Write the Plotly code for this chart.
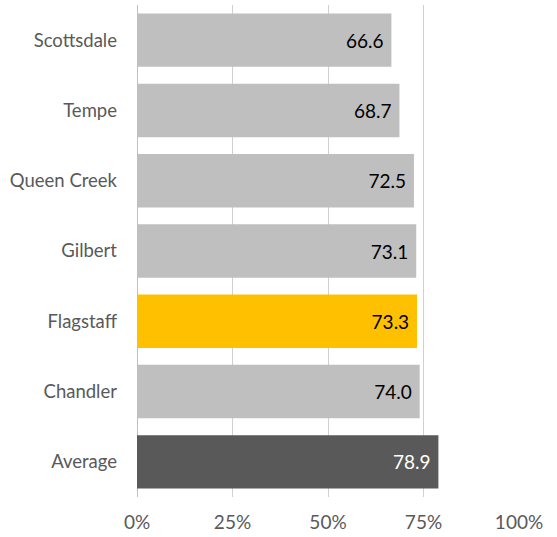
import plotly.graph_objects as go

# Share of residents (percent), listed top to bottom
cities = ["Scottsdale", "Tempe", "Queen Creek", "Gilbert", "Flagstaff", "Chandler", "Average"]
values = [66.6, 68.7, 72.5, 73.1, 73.3, 74.0, 78.9]
bar_colors = ["#bfbfbf", "#bfbfbf", "#bfbfbf", "#bfbfbf", "#ffc000", "#bfbfbf", "#595959"]
label_colors = ["#000000"] * 6 + ["#ffffff"]

tick_vals = [0, 25, 50, 75, 100]
tick_text = ["0%", "25%", "50%", "75%", "100%"]

font_family = "Lato, Open Sans, sans-serif"

fig = go.Figure(
    go.Bar(
        y=cities,
        x=values,
        orientation="h",
        marker=dict(color=bar_colors, line=dict(width=0)),
        text=[f"{v:.1f}\u00a0" for v in values],
        textposition="inside",
        insidetextanchor="end",
        textfont=dict(family=font_family, size=19, color=label_colors),
        cliponaxis=False,
        hoverinfo="skip",
    )
)

fig.update_layout(
    width=557,
    height=537,
    margin=dict(l=137, r=38, t=5, b=40),
    paper_bgcolor="white",
    plot_bgcolor="white",
    bargap=0.24,
    showlegend=False,
    font=dict(family=font_family, size=19, color="#595959"),
    uniformtext=dict(mode=False),
)

fig.update_xaxes(
    range=[0, 100],
    tickvals=tick_vals,
    ticktext=tick_text,
    showgrid=True,
    gridcolor="#d0d0d0",
    gridwidth=1,
    zeroline=True,
    zerolinecolor="#c0c0c0",
    zerolinewidth=1,
    showline=False,
    ticks="",
    ticklabelstandoff=12,
    tickfont=dict(size=19, color="#595959"),
    fixedrange=True,
)

fig.update_yaxes(
    categoryorder="array",
    categoryarray=cities[::-1],
    showgrid=False,
    zeroline=False,
    showline=False,
    ticks="",
    ticklabelstandoff=19,
    tickfont=dict(size=18.5, color="#595959"),
    fixedrange=True,
)

fig.write_html("out.html")
